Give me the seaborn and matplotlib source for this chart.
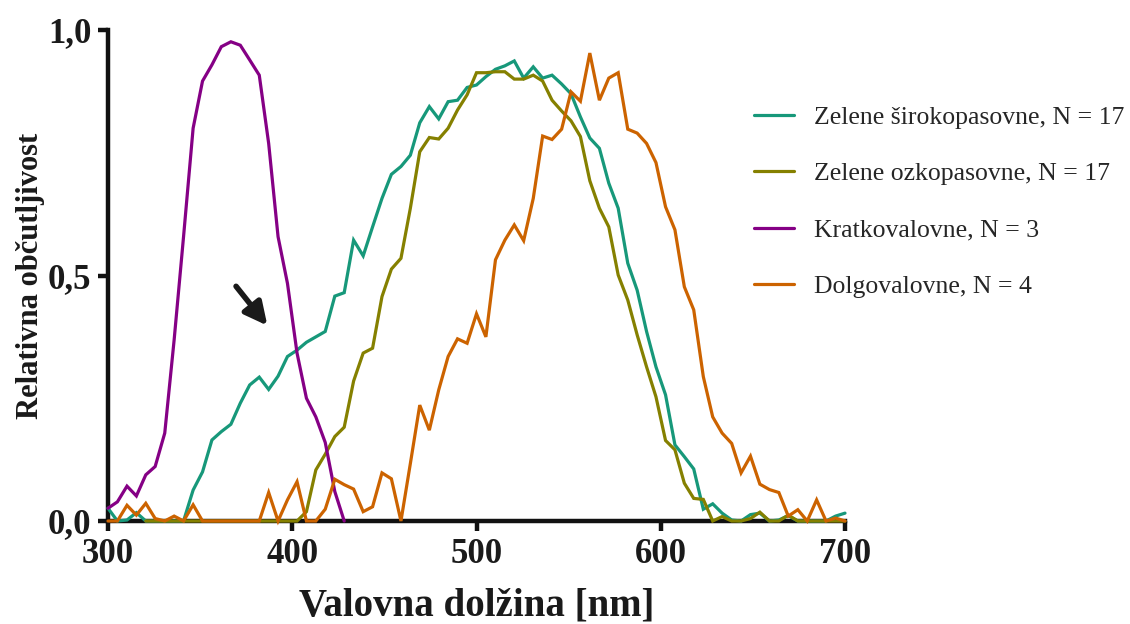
import numpy as np
import pandas as pd
import matplotlib
matplotlib.use("Agg")
import matplotlib.pyplot as plt
import seaborn as sns
from matplotlib.ticker import FuncFormatter, FixedLocator
from matplotlib.font_manager import FontProperties

# Sampling grid of the spectral measurements [nm]
wavelength = [
    300.0, 305.1, 310.3, 315.4, 320.5, 325.6, 330.8, 335.9, 341.0, 346.2,
    351.3, 356.4, 361.5, 366.7, 371.8, 376.9, 382.1, 387.2, 392.3, 397.4,
    402.6, 407.7, 412.8, 417.9, 423.1, 428.2, 433.3, 438.5, 443.6, 448.7,
    453.8, 459.0, 464.1, 469.2, 474.4, 479.5, 484.6, 489.7, 494.9, 500.0,
    505.1, 510.3, 515.4, 520.5, 525.6, 530.8, 535.9, 541.0, 546.2, 551.3,
    556.4, 561.5, 566.7, 571.8, 576.9, 582.1, 587.2, 592.3, 597.4, 602.6,
    607.7, 612.8, 617.9, 623.1, 628.2, 633.3, 638.5, 643.6, 648.7, 653.8,
    659.0, 664.1, 669.2, 674.4, 679.5, 684.6, 689.7, 694.9, 700.0,
]

# Green broadband receptors (full grid)
zelene_siroko = [
    0.026, 0.0, 0.002, 0.017, 0.0, 0.0, 0.0, 0.0, 0.0, 0.063,
    0.100, 0.165, 0.182, 0.197, 0.240, 0.277, 0.293, 0.268, 0.295, 0.335,
    0.348, 0.364, 0.375, 0.386, 0.458, 0.465, 0.572, 0.540, 0.599, 0.657,
    0.706, 0.722, 0.745, 0.811, 0.844, 0.819, 0.854, 0.857, 0.883, 0.888,
    0.905, 0.920, 0.927, 0.937, 0.902, 0.925, 0.902, 0.908, 0.890, 0.870,
    0.823, 0.780, 0.759, 0.688, 0.637, 0.525, 0.470, 0.386, 0.314, 0.257,
    0.155, 0.131, 0.106, 0.024, 0.035, 0.016, 0.002, 0.0, 0.013, 0.016,
    0.0, 0.002, 0.011, 0.0, 0.0, 0.0, 0.0, 0.010, 0.016,
]

# Green narrowband receptors (from the 5th grid point on)
zelene_ozko_start = 4
zelene_ozko = [
    0.0, 0.0, 0.0, 0.0, 0.0, 0.0,
    0.0, 0.0, 0.0, 0.0, 0.0, 0.0, 0.0, 0.0, 0.0, 0.0,
    0.0, 0.019, 0.104, 0.136, 0.172, 0.191, 0.285, 0.342, 0.352, 0.457,
    0.513, 0.535, 0.637, 0.752, 0.781, 0.778, 0.800, 0.837, 0.868, 0.913,
    0.913, 0.915, 0.915, 0.900, 0.900, 0.908, 0.896, 0.857, 0.835, 0.815,
    0.783, 0.693, 0.637, 0.599, 0.501, 0.450, 0.379, 0.314, 0.253, 0.164,
    0.145, 0.077, 0.046, 0.044, 0.0, 0.009, 0.0, 0.0, 0.005, 0.018,
    0.0, 0.0, 0.012, 0.0, 0.0, 0.0, 0.0, 0.0, 0.0,
]

# Short-wavelength receptors (first 26 grid points)
kratkovalovne = [
    0.026, 0.039, 0.071, 0.051, 0.094, 0.111, 0.179, 0.369, 0.579, 0.800,
    0.896, 0.929, 0.966, 0.976, 0.969, 0.939, 0.908, 0.769, 0.579, 0.484,
    0.342, 0.250, 0.212, 0.160, 0.060, 0.0,
]

# Long-wavelength receptors (full grid)
dolgovalovne = [
    0.0, 0.0, 0.032, 0.012, 0.036, 0.005, 0.0, 0.010, 0.0, 0.033,
    0.0, 0.0, 0.0, 0.0, 0.0, 0.0, 0.0, 0.058, 0.0, 0.043,
    0.080, 0.0, 0.0, 0.024, 0.085, 0.074, 0.065, 0.019, 0.029, 0.098,
    0.086, 0.0, 0.117, 0.236, 0.185, 0.267, 0.335, 0.371, 0.362, 0.422,
    0.375, 0.532, 0.572, 0.603, 0.571, 0.657, 0.784, 0.777, 0.798, 0.874,
    0.855, 0.953, 0.857, 0.902, 0.913, 0.798, 0.790, 0.769, 0.730, 0.640,
    0.593, 0.477, 0.430, 0.294, 0.212, 0.179, 0.158, 0.098, 0.132, 0.075,
    0.064, 0.058, 0.010, 0.023, 0.0, 0.043, 0.0, 0.006, 0.0,
]

labels = [
    "Zelene širokopasovne, N = 17",
    "Zelene ozkopasovne, N = 17",
    "Kratkovalovne, N = 3",
    "Dolgovalovne, N = 4",
]
colors = ["#17987a", "#858000", "#850085", "#cc6300"]

x_ticks = [300, 400, 500, 600, 700]
y_ticks = [0.0, 0.5, 1.0]

# Long-form table for seaborn
frames = [
    pd.DataFrame({"wl": wavelength, "val": zelene_siroko, "serija": labels[0]}),
    pd.DataFrame({"wl": wavelength[zelene_ozko_start:zelene_ozko_start + len(zelene_ozko)],
                  "val": zelene_ozko, "serija": labels[1]}),
    pd.DataFrame({"wl": wavelength[:len(kratkovalovne)], "val": kratkovalovne,
                  "serija": labels[2]}),
    pd.DataFrame({"wl": wavelength, "val": dolgovalovne, "serija": labels[3]}),
]
df = pd.concat(frames, ignore_index=True)

sns.set_style("ticks")
plt.rcParams["font.family"] = ["Liberation Serif", "DejaVu Serif"]

fig = plt.figure(figsize=(11.3, 6.24), dpi=100)
ax = fig.add_axes([108 / 1130, 1 - 521 / 624, (845 - 108) / 1130, (521 - 30) / 624])

sns.lineplot(data=df, x="wl", y="val", hue="serija", hue_order=labels,
             palette=colors, estimator=None, errorbar=None, sort=False,
             linewidth=2.3, legend=False, ax=ax)

for ln in ax.lines:
    ln.set_clip_on(False)
    ln.set_zorder(3)
    ln.set_solid_joinstyle("miter")

ax.set_xlim(300, 700)
ax.set_ylim(0, 1.0)

for side in ("top", "right"):
    ax.spines[side].set_visible(False)
for side in ("left", "bottom"):
    ax.spines[side].set_linewidth(3.2)
    ax.spines[side].set_color("#111111")
    ax.spines[side].set_zorder(2.5)

ax.xaxis.set_major_locator(FixedLocator(x_ticks))
ax.yaxis.set_major_locator(FixedLocator(y_ticks))
ax.yaxis.set_major_formatter(FuncFormatter(lambda v, p: f"{v:.1f}".replace(".", ",")))
ax.xaxis.set_major_formatter(FuncFormatter(lambda v, p: f"{v:.0f}"))
ax.tick_params(axis="both", direction="out", length=7, width=3.2, color="#111111",
               labelsize=25, pad=5)
for lab in ax.get_xticklabels() + ax.get_yticklabels():
    lab.set_fontweight("bold")
    lab.set_color("#1a1a1a")

ax.set_xlabel("Valovna dolžina [nm]", fontsize=28, fontweight="bold",
              color="#1a1a1a", labelpad=12)
ax.set_ylabel("Relativna občutljivost", fontsize=22, fontweight="bold",
              color="#1a1a1a", labelpad=2)

# Arrow pointing at the shoulder of the broadband curve
ax.annotate("", xy=(386.5, 0.398), xytext=(369.5, 0.478),
            arrowprops=dict(arrowstyle="-|>", color="#1a1a1a", lw=4,
                            mutation_scale=34, shrinkA=0, shrinkB=0))

ax.legend(ax.lines[:4], labels, loc="upper left",
          bbox_to_anchor=(754 / 1130, 1 - 106 / 624), bbox_transform=fig.transFigure,
          frameon=False, prop=FontProperties(family="Liberation Serif", size=18.5),
          handlelength=1.55, handletextpad=0.8, labelspacing=1.3,
          borderaxespad=0, borderpad=0)

fig.savefig("out.png", dpi=100)
